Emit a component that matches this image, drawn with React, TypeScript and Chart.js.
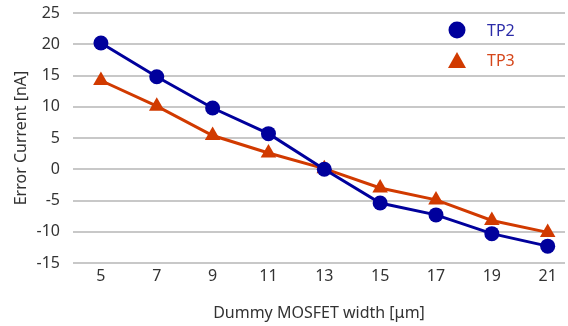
import React, { useEffect, useRef } from "react";
import { Chart, registerables } from "chart.js";

Chart.register(...registerables);

const widths = [5, 7, 9, 11, 13, 15, 17, 19, 21];
const tp2 = [20.2, 14.8, 9.8, 5.7, 0.0, -5.4, -7.3, -10.3, -12.3];
const tp3 = [14.2, 10.1, 5.4, 2.6, 0.1, -3.0, -4.9, -8.2, -10.1];
const yTicks = [-15, -10, -5, 0, 5, 10, 15, 20, 25];

const FONT = "'Noto Sans', 'Open Sans', sans-serif";
const BLUE = "#00009c";
const RED = "#d13a00";

const legendPlugin = {
  id: "customLegend",
  afterDraw(chart: any) {
    const ctx = chart.ctx;
    const items = [
      { label: chart.data.datasets[0].label, color: BLUE, text: "#2b2ba8", style: "circle", y: 30 },
      { label: chart.data.datasets[1].label, color: RED, text: "#d5461a", style: "triangle", y: 60 },
    ];
    ctx.save();
    items.forEach((it) => {
      ctx.fillStyle = it.color;
      ctx.beginPath();
      if (it.style === "circle") {
        ctx.arc(457, it.y, 8.5, 0, Math.PI * 2);
      } else {
        ctx.moveTo(457, it.y - 8);
        ctx.lineTo(466, it.y + 8);
        ctx.lineTo(448, it.y + 8);
        ctx.closePath();
      }
      ctx.fill();
      ctx.fillStyle = it.text;
      ctx.font = `16px ${FONT}`;
      ctx.textBaseline = "middle";
      ctx.textAlign = "left";
      ctx.fillText(it.label, 487, it.y + 1);
    });
    ctx.restore();
  },
};

export default function App() {
  const ref = useRef<HTMLCanvasElement>(null);
  useEffect(() => {
    document.body.style.margin = "0";
    const chart = new Chart(ref.current!, {
      type: "line",
      data: {
        datasets: [
          {
            label: "TP2",
            data: widths.map((x, i) => ({ x, y: tp2[i] })),
            borderColor: BLUE,
            backgroundColor: BLUE,
            borderWidth: 3,
            pointStyle: "circle",
            pointRadius: 7.5,
            pointBorderWidth: 0,
            clip: false,
          },
          {
            label: "TP3",
            data: widths.map((x, i) => ({ x, y: tp3[i] })),
            borderColor: RED,
            backgroundColor: RED,
            borderWidth: 3,
            pointStyle: "triangle",
            pointRadius: 9,
            pointBorderWidth: 0,
            clip: false,
          },
        ],
      },
      options: {
        animation: false,
        responsive: false,
        layout: { autoPadding: false, padding: { top: 13, right: 3, left: 12, bottom: 3 } },
        plugins: { legend: { display: false }, tooltip: { enabled: false } },
        scales: {
          x: {
            type: "linear",
            min: 4,
            max: 21.62,
            afterBuildTicks: (s: any) => {
              s.ticks = widths.map((v) => ({ value: v }));
            },
            afterFit: (s: any) => {
              s.height = 60;
              s.paddingLeft = 0;
              s.paddingRight = 0;
            },
            grid: { display: false, drawTicks: false },
            border: { display: false },
            ticks: { color: "#333", font: { family: FONT, size: 16 }, padding: 4, maxRotation: 0 },
            title: {
              display: true,
              text: "Dummy MOSFET width [μm]",
              color: "#333",
              font: { family: FONT, size: 16 },
              padding: { top: 6, bottom: 0 },
            },
          },
          y: {
            min: -15,
            max: 25,
            afterBuildTicks: (s: any) => {
              s.ticks = yTicks.map((v) => ({ value: v }));
            },
            afterFit: (s: any) => {
              s.width = 61;
              s.paddingTop = 0;
              s.paddingBottom = 0;
            },
            grid: { color: "#c8c8c8", lineWidth: 2, drawTicks: false },
            border: { display: false },
            ticks: { color: "#333", font: { family: FONT, size: 16 }, padding: 13 },
            title: {
              display: true,
              text: "Error Current [nA]",
              color: "#333",
              font: { family: FONT, size: 16 },
              padding: 0,
            },
          },
        },
      },
      plugins: [legendPlugin],
    });
    return () => chart.destroy();
  }, []);
  return (
    <div style={{ position: "absolute", left: 0, top: 0, width: 568, height: 326 }}>
      <canvas ref={ref} width={568} height={326} />
    </div>
  );
}
